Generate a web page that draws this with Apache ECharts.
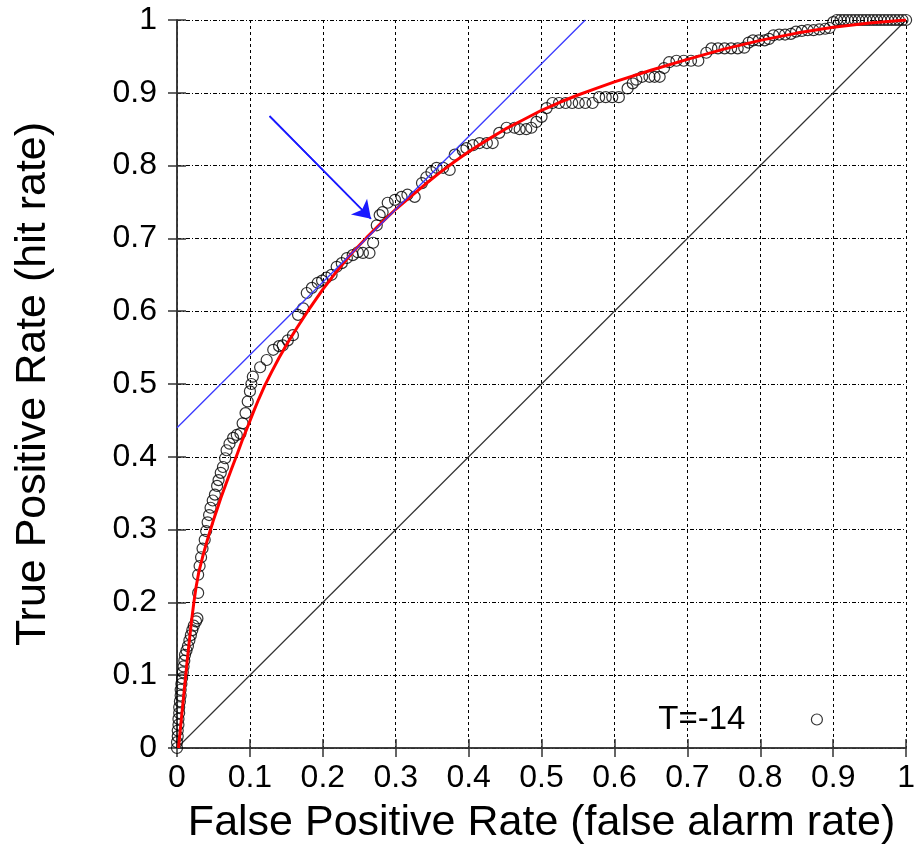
<!DOCTYPE html>
<html>
<head>
<meta charset="utf-8">
<script src="https://cdn.jsdelivr.net/npm/echarts@6/dist/echarts.min.js"></script>
<style>html,body{margin:0;padding:0;background:#fff;}#c{width:918px;height:862px;}</style>
</head>
<body>
<div id="c"></div>
<script>
// Empirical ROC points (false positive rate, true positive rate)
var rocFPR = [
  0.000,0.000,0.001,0.001,0.002,0.002,0.003,0.003,0.004,0.005,0.005,0.006,0.007,0.008,0.009,0.010,
  0.011,0.013,0.015,0.017,0.019,0.021,0.023,0.026,0.028,
  0.029,0.029,0.031,0.033,0.035,0.038,0.040,0.042,0.044,0.046,0.049,0.052,0.055,0.057,0.060,0.063,
  0.066,0.068,0.072,0.077,0.082,0.087,0.090,0.094,0.097,0.100,0.102,0.104,
  0.114,0.123,0.132,0.140,0.145,0.152,0.159,0.166,0.173,0.178,0.185,0.193,0.199,0.205,0.212,0.219,
  0.226,0.233,0.241,0.248,0.255,0.264,0.269,0.274,
  0.278,0.282,0.289,0.299,0.308,0.316,0.326,0.336,0.342,0.349,0.356,0.365,0.374,0.381,0.392,
  0.397,0.406,0.415,0.425,0.433,0.442,0.452,0.463,0.470,0.479,0.486,0.493,0.500,0.507,0.515,0.524,
  0.533,0.542,0.551,0.560,0.570,0.579,0.588,0.597,0.606,
  0.618,0.625,0.630,0.638,0.648,0.655,0.662,0.668,0.675,0.685,0.695,0.705,0.715,0.726,0.733,0.742,
  0.751,0.760,0.769,0.778,0.784,0.790,0.798,0.806,0.812,0.818,0.826,0.834,0.842,0.849,0.857,0.865,
  0.873,0.881,0.889,0.895,0.900,0.905,0.910,0.915,0.920,0.925,0.930,0.935,0.940,0.945,0.950,0.955,
  0.960,0.965,0.970,0.975,0.980,0.985,0.990,0.995,1.000
];
var rocTPR = [
  0.000,0.008,0.016,0.024,0.032,0.040,0.048,0.056,0.064,0.072,0.080,0.088,0.096,0.104,0.112,0.120,
  0.128,0.134,0.140,0.148,0.155,0.162,0.168,0.174,0.178,
  0.213,0.238,0.250,0.262,0.274,0.286,0.298,0.310,0.320,0.330,0.340,0.348,0.360,0.368,0.378,0.386,
  0.398,0.409,0.418,0.426,0.430,0.432,0.446,0.460,0.476,0.490,0.500,0.510,
  0.523,0.533,0.547,0.552,0.553,0.560,0.567,0.595,0.604,0.625,0.632,0.639,0.642,0.646,0.650,0.661,
  0.666,0.673,0.677,0.681,0.680,0.680,0.694,0.718,
  0.732,0.736,0.749,0.753,0.757,0.760,0.757,0.776,0.784,0.791,0.797,0.797,0.794,0.815,0.821,
  0.824,0.828,0.831,0.831,0.831,0.845,0.852,0.852,0.850,0.850,0.852,0.860,0.867,0.879,0.886,0.886,
  0.886,0.886,0.886,0.886,0.886,0.894,0.894,0.894,0.894,
  0.906,0.913,0.918,0.922,0.922,0.922,0.922,0.934,0.942,0.944,0.944,0.944,0.944,0.955,0.961,0.961,
  0.961,0.961,0.961,0.962,0.969,0.972,0.972,0.972,0.974,0.979,0.980,0.980,0.981,0.984,0.985,0.986,
  0.986,0.987,0.988,0.989,0.997,1.000,1.000,1.000,1.000,1.000,1.000,1.000,1.000,1.000,1.000,1.000,
  1.000,1.000,1.000,1.000,1.000,1.000,1.000,1.000,1.000
];
// Fitted ROC curve (red)
var fitFPR = [0.002,0.005,0.008,0.011,0.014,0.017,0.020,0.023,0.026,0.030,0.035,0.040,0.045,0.050,0.055,0.060,
  0.068,0.075,0.083,0.090,0.098,0.105,0.112,0.120,0.130,0.140,0.152,0.165,0.180,0.200,0.220,0.240,0.260,0.280,
  0.300,0.320,0.340,0.360,0.380,0.400,0.425,0.450,0.475,0.500,0.525,0.550,0.575,0.600,0.650,0.700,0.750,
  0.800,0.850,0.900,0.950,1.000];
var fitTPR = [0.000,0.030,0.060,0.090,0.120,0.148,0.175,0.199,0.220,0.242,0.262,0.280,0.297,0.313,0.328,0.343,
  0.365,0.384,0.405,0.424,0.444,0.462,0.479,0.497,0.517,0.536,0.557,0.578,0.601,0.630,0.656,0.680,0.701,0.721,
  0.740,0.757,0.774,0.790,0.805,0.819,0.835,0.850,0.863,0.876,0.887,0.897,0.906,0.915,0.931,0.946,0.960,
  0.972,0.982,0.990,0.996,1.000];
// Tangent line (blue) and chance diagonal
var tangentX = [0.0, 0.56];
var tangentY = [0.44, 1.0];
var diagX = [0.0, 1.0];
var diagY = [0.0, 1.0];
// Arrow pointing at the tangent point
var arrowFrom = [0.127, 0.868];
var arrowTo = [0.266, 0.727];
var seriesName = 'T=-14';

function zip(a, b) { return a.map(function (v, i) { return [v, b[i]]; }); }

var FONT = 'Liberation Sans';
var chart = echarts.init(document.getElementById('c'), null, {renderer: 'canvas'});
var gridLineH = {show: true, lineStyle: {color: '#000', width: 1, type: [4, 2, 1, 2]}};
var gridLineV = {show: true, lineStyle: {color: '#000', width: 1, type: [3, 3]}};
var axLine = {show: true, lineStyle: {color: '#333', width: 1.5}};
var axTick = {show: true, inside: true, length: 9, lineStyle: {color: '#333', width: 1.5}};

chart.setOption({
  animation: false,
  backgroundColor: '#fff',
  grid: {left: 177, top: 20, width: 730, height: 728, show: false},
  legend: {
    data: [seriesName], right: 95, top: 703, align: 'right', padding: 0,
    itemWidth: 11, itemHeight: 11,
    itemStyle: {color: 'rgba(0,0,0,0)', borderColor: '#000', borderWidth: 1.2},
    textStyle: {fontFamily: FONT, fontSize: 33, color: '#000', padding: [0, 61, 0, 0]}
  },
  xAxis: [{
    type: 'value', min: 0, max: 1, interval: 0.1, position: 'bottom',
    axisLine: axLine, axisTick: axTick, splitLine: gridLineV,
    axisLabel: {fontFamily: FONT, fontSize: 32, color: '#000', margin: 14},
    name: 'False Positive Rate (false alarm rate)', nameLocation: 'middle', nameGap: 54,
    nameTextStyle: {fontFamily: FONT, fontSize: 43, color: '#000'}
  }, {
    type: 'value', min: 0, max: 1, interval: 0.1, position: 'top',
    axisLine: axLine, axisTick: axTick, splitLine: {show: false}, axisLabel: {show: false}
  }],
  yAxis: [{
    type: 'value', min: 0, max: 1, interval: 0.1, position: 'left',
    axisLine: axLine, axisTick: axTick, splitLine: gridLineH,
    axisLabel: {fontFamily: FONT, fontSize: 32, color: '#000', margin: 20},
    name: 'True Positive Rate (hit rate)', nameLocation: 'middle', nameGap: 122, nameRotate: 90,
    nameTextStyle: {fontFamily: FONT, fontSize: 43, color: '#000'}
  }, {
    type: 'value', min: 0, max: 1, interval: 0.1, position: 'right',
    axisLine: axLine, axisTick: axTick, splitLine: {show: false}, axisLabel: {show: false}
  }],
  series: [{
    type: 'line', data: zip(diagX, diagY), symbol: 'none', silent: true,
    lineStyle: {color: '#333', width: 1.2}, z: 2
  }, {
    name: seriesName, type: 'scatter', data: zip(rocFPR, rocTPR), symbol: 'circle', symbolSize: 11,
    itemStyle: {color: 'rgba(0,0,0,0)', borderColor: '#000', borderWidth: 1.2}, z: 3
  }, {
    type: 'line', data: zip(fitFPR, fitTPR), symbol: 'none', smooth: false,
    lineStyle: {color: '#ff0000', width: 3, join: 'round'}, z: 4
  }, {
    type: 'line', data: zip(tangentX, tangentY), symbol: 'none',
    lineStyle: {color: '#3a3aff', width: 1.3}, z: 5
  }, {
    type: 'line', data: [arrowFrom, arrowTo], symbol: 'none',
    lineStyle: {color: '#1a1aff', width: 1.6}, z: 6,
    markLine: {
      silent: true, symbol: ['none', 'arrow'], symbolSize: 17, label: {show: false},
      lineStyle: {color: '#1a1aff', width: 1.6, type: 'solid'},
      data: [[{coord: arrowFrom}, {coord: arrowTo}]]
    }
  }]
});
</script>
</body>
</html>
